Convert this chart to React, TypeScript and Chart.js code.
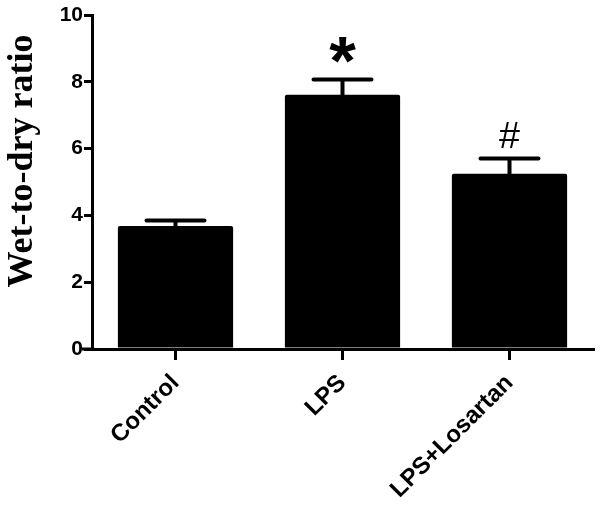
import React, { useEffect, useRef } from "react";
import { Chart, registerables } from "chart.js";

Chart.register(...registerables);

const categories = ["Control", "LPS", "LPS+Losartan"];
const ratioMeans = [3.68, 7.61, 5.25];
const ratioErrors = [0.17, 0.46, 0.45];
const markers = ["", "*", "#"];
const yTitle = "Wet-to-dry ratio";

const errorBarPlugin = {
  id: "errorBars",
  afterDatasetsDraw(chart: any) {
    const { ctx, scales } = chart;
    const meta = chart.getDatasetMeta(0);
    const y = scales.y;
    ctx.save();
    ctx.strokeStyle = "#000";
    ctx.lineWidth = 4;
    ctx.lineCap = "round";
    meta.data.forEach((bar: any, i: number) => {
      const top = y.getPixelForValue(ratioMeans[i]);
      const cap = y.getPixelForValue(ratioMeans[i] + ratioErrors[i]);
      ctx.beginPath();
      ctx.moveTo(bar.x, top);
      ctx.lineTo(bar.x, cap);
      ctx.moveTo(bar.x - 29, cap);
      ctx.lineTo(bar.x + 29, cap);
      ctx.stroke();
      const m = markers[i];
      if (m) {
        const isStar = m === "*";
        const family = isStar ? "bold {S}px 'Liberation Sans', Arial" : "{S}px 'Liberation Sans', Arial";
        ctx.font = family.replace("{S}", "100");
        const mt = ctx.measureText(m);
        const h100 = mt.actualBoundingBoxAscent + mt.actualBoundingBoxDescent;
        const target = 26;
        const size = (100 * target) / h100;
        ctx.font = family.replace("{S}", size.toFixed(1));
        const mt2 = ctx.measureText(m);
        const gap = isStar ? 16 : 11;
        const inkBottom = cap - gap;
        ctx.fillStyle = "#000";
        ctx.textAlign = "center";
        ctx.textBaseline = "alphabetic";
        ctx.fillText(m, bar.x, inkBottom - mt2.actualBoundingBoxDescent);
      }
    });
    // x axis extension to the left of the y axis
    const area = chart.chartArea;
    ctx.lineCap = "butt";
    ctx.lineWidth = 3;
    ctx.beginPath();
    ctx.moveTo(82, area.bottom);
    ctx.lineTo(area.left, area.bottom);
    ctx.stroke();
    // y-axis title
    ctx.font = "bold 36px 'Liberation Serif', 'Times New Roman', serif";
    ctx.textAlign = "center";
    ctx.textBaseline = "alphabetic";
    ctx.translate(32, 161);
    ctx.rotate(-Math.PI / 2);
    ctx.fillText(yTitle, 0, 0);
    ctx.restore();
  },
};

export default function App() {
  const ref = useRef<HTMLCanvasElement>(null);
  useEffect(() => {
    if (!ref.current) return;
    const chart = new Chart(ref.current, {
      type: "bar",
      data: {
        labels: categories,
        datasets: [
          {
            data: ratioMeans,
            backgroundColor: "#000",
            borderWidth: 0,
            borderRadius: 2,
            barPercentage: 0.69,
            categoryPercentage: 1,
          },
        ],
      },
      options: {
        responsive: false,
        animation: false,
        layout: { padding: { top: 15, right: 7, left: 0, bottom: 0 } },
        plugins: { legend: { display: false }, tooltip: { enabled: false } },
        scales: {
          x: {
            offset: true,
            grid: {
              offset: false,
              drawOnChartArea: false,
              drawTicks: true,
              tickLength: 11,
              lineWidth: 3,
              color: "#000",
            },
            border: { display: true, width: 3, color: "#000" },
            ticks: {
              maxRotation: 45,
              minRotation: 45,
              color: "#000",
              padding: 9,
              font: { family: "'Liberation Sans', Arial", size: 24, weight: "bold" },
            },
            afterFit: (s: any) => {
              s.height = 161;
            },
          },
          y: {
            min: 0,
            max: 10,
            grid: {
              drawOnChartArea: false,
              drawTicks: true,
              tickLength: 8,
              lineWidth: 3,
              color: "#000",
            },
            border: { display: true, width: 3, color: "#000" },
            ticks: {
              stepSize: 2,
              color: "#000",
              padding: 1,
              font: { family: "'Liberation Sans', Arial", size: 21, weight: "bold" },
            },
            afterFit: (s: any) => {
              s.width = 92;
            },
          },
        },
      },
      plugins: [errorBarPlugin],
    });
    return () => chart.destroy();
  }, []);
  return (
    <div style={{ position: "fixed", left: 0, top: 0, width: 600, height: 510, background: "#fff" }}>
      <canvas ref={ref} width={600} height={510} />
    </div>
  );
}
